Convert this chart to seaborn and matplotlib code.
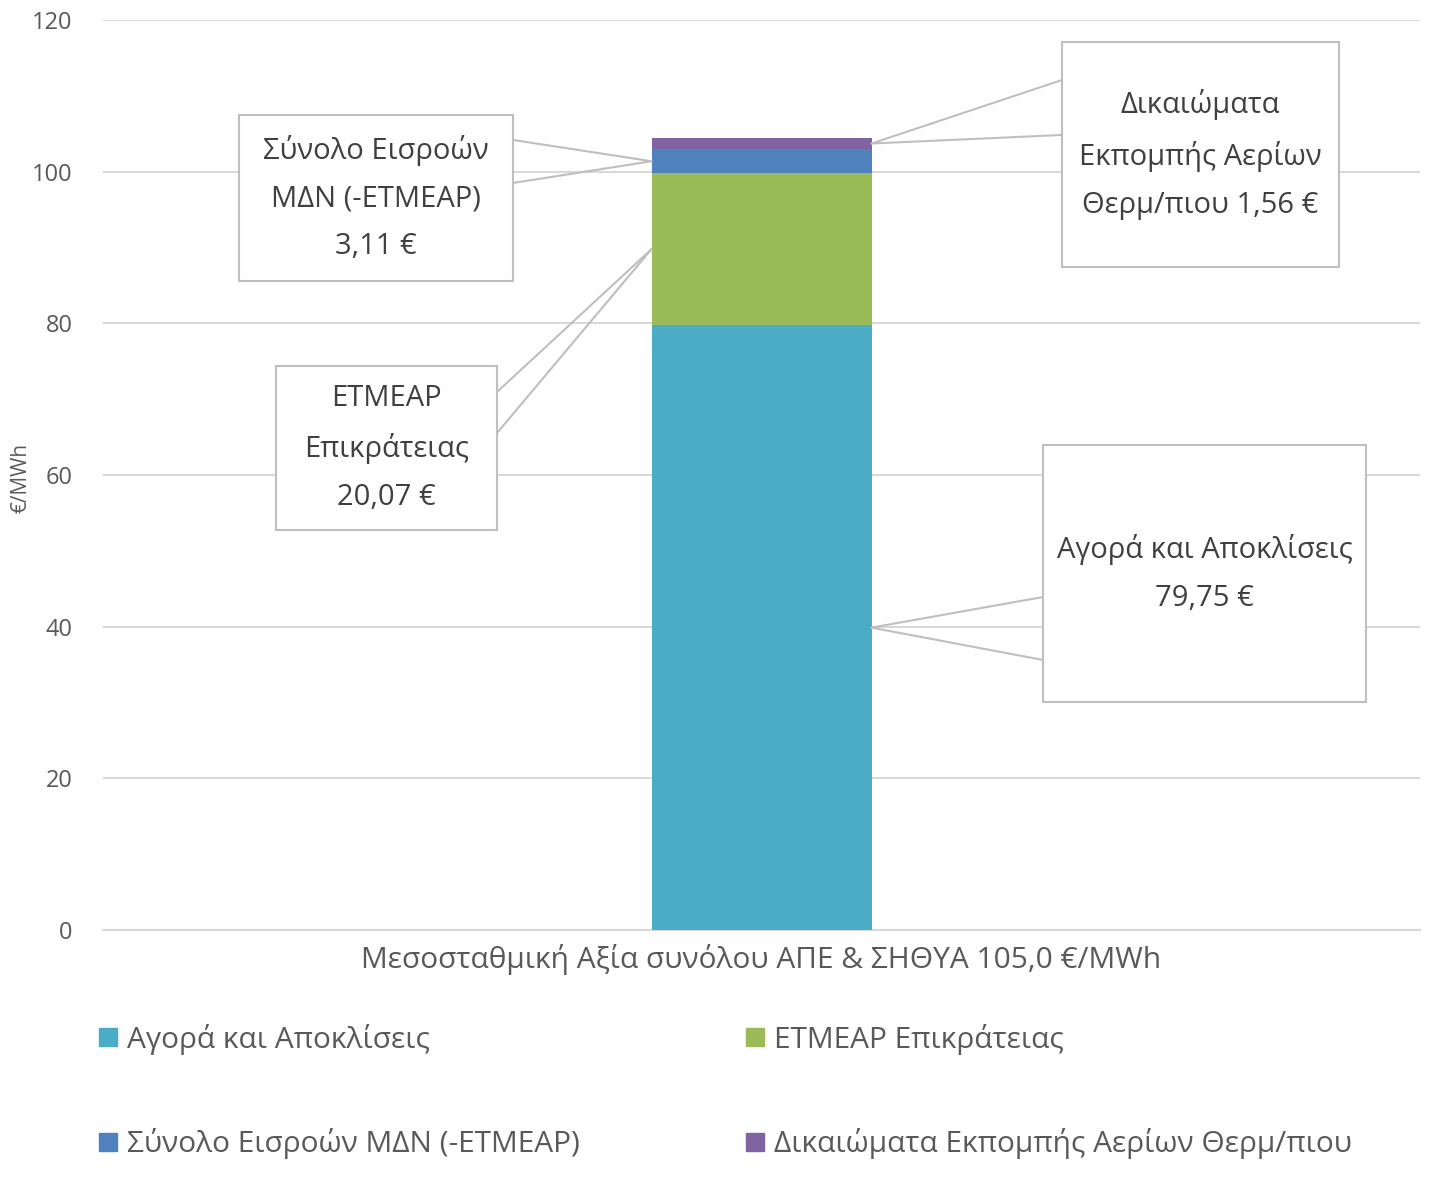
import matplotlib
matplotlib.use("Agg")
import matplotlib.pyplot as plt
import matplotlib.font_manager as fm
import seaborn as sns
import pandas as pd
import numpy as np
from matplotlib.patches import Rectangle
from matplotlib.lines import Line2D

categories = ["Μεσοσταθμική Αξία συνόλου ΑΠΕ & ΣΗΘΥΑ 105,0 €/MWh"]
series_names = ["Αγορά και Αποκλίσεις", "ΕΤΜΕΑΡ Επικράτειας",
                "Σύνολο Εισροών ΜΔΝ (-ΕΤΜΕΑΡ)", "Δικαιώματα Εκπομπής Αερίων Θερμ/πιου"]
series_values = [79.75, 20.07, 3.11, 1.56]
box_labels = ["Αγορά και Αποκλίσεις\n79,75 €", "ΕΤΜΕΑΡ\nΕπικράτειας\n20,07 €",
              "Σύνολο Εισροών\nΜΔΝ (-ΕΤΜΕΑΡ)\n3,11 €", "Δικαιώματα\nΕκπομπής Αερίων\nΘερμ/πιου 1,56 €"]
colors = ["#4BACC6", "#9BBB59", "#4F81BD", "#8064A2"]
y_ticks = [0, 20, 40, 60, 80, 100, 120]

sns.set_theme(style="white")
names = {f.name for f in fm.fontManager.ttflist}
fam = [f for f in ["Liberation Sans Narrow", "Open Sans", "DejaVu Sans"] if f in names]
plt.rcParams['font.family'] = fam

fig = plt.figure(figsize=(14.3, 11.88), dpi=100)
ax = fig.add_axes([103/1430, 258/1188, 1317/1430, 910/1188])

cum = np.cumsum(series_values)
bw = 220/1317
for i in range(len(series_values)-1, -1, -1):
    df = pd.DataFrame({"cat": categories, "val": [cum[i]]})
    sns.barplot(data=df, x="cat", y="val", color=colors[i], width=bw,
                saturation=1, ax=ax, zorder=3, linewidth=0)

ax.set_xlim(-0.5, 0.5)
ax.set_ylim(0, 120)
ax.set_yticks(y_ticks)
ax.set_yticklabels([str(t) for t in y_ticks], fontsize=17, color="#595959")
ax.tick_params(axis="y", length=0, pad=22)
ax.tick_params(axis="x", length=0, pad=10)
ax.set_xticks([0])
ax.set_xticklabels(categories, fontsize=21.5, color="#595959")
ax.set_xlabel("")
ax.set_ylabel("€/MWh", fontsize=15, color="#595959")
ax.yaxis.set_label_coords(-0.054, 0.497)
ax.grid(axis="y", color="#D9D9D9", linewidth=1.5, zorder=0)
ax.set_axisbelow(True)
for s in ["left", "right", "top"]:
    ax.spines[s].set_visible(False)
ax.spines["bottom"].set_color("#D9D9D9")
ax.spines["bottom"].set_linewidth(1.5)

# callouts: (series index, box x0, x1, y0, y1, line y a, line y b, side)
half = bw/2
mids = cum - np.array(series_values)/2
callouts = [
    (2, -0.397, -0.1887, 85.59, 107.48, 104.18, 98.51, "left"),
    (1, -0.3686, -0.2008, 52.75, 74.38, 70.95, 65.54, "left"),
    (3, 0.2282, 0.4385, 87.43, 117.1, 112.09, 104.84, "right"),
    (0, 0.2137, 0.459, 30.07, 63.96, 43.91, 35.61, "right"),
]
for idx, x0, x1, y0, y1, la, lb, side in callouts:
    if side == "left":
        ex, px = x1, -half
    else:
        ex, px = x0, half
    py = mids[idx]
    for ly in (la, lb):
        ax.add_line(Line2D([ex, px], [ly, py], color="#BFBFBF", lw=1.5, zorder=4))
    ax.add_patch(Rectangle((x0, y0), x1-x0, y1-y0, facecolor="white",
                           edgecolor="#BFBFBF", lw=1.5, zorder=5))
    ax.text((x0+x1)/2, (y0+y1)/2, box_labels[idx], ha="center", va="center",
            fontsize=21, color="#404040", linespacing=1.85, zorder=6)

handles = [Line2D([], [], marker="s", linestyle="", markersize=13,
                  markerfacecolor=c, markeredgecolor=c) for c in colors]
order = [0, 2, 1, 3]
fig.legend([handles[i] for i in order], [series_names[i] for i in order],
           ncol=2, loc="upper left", bbox_to_anchor=(69/1430, 1-997/1188),
           frameon=False, fontsize=21.5, labelcolor="#595959",
           handletextpad=0.25, handlelength=0.8, columnspacing=5.45,
           labelspacing=2.45)

fig.savefig("out.png", dpi=100)
